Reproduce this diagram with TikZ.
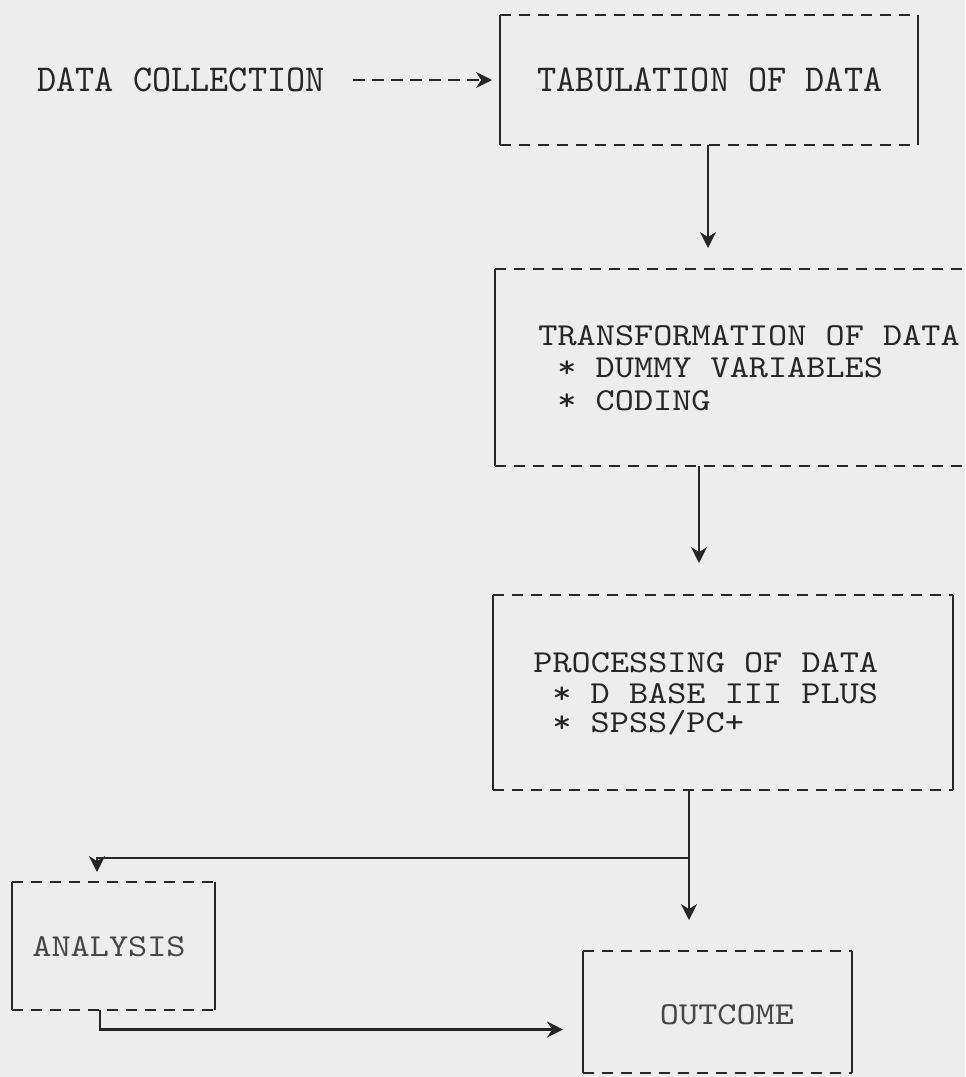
\documentclass[tikz,border=0pt]{standalone}
\usepackage{fontspec}
\newfontfamily\typefont[FakeStretch=1.14]{lmmono10-regular.otf}
\newfontfamily\tallfont[FakeStretch=0.96]{lmmono10-regular.otf}
\usetikzlibrary{arrows.meta,fit}
\definecolor{paper}{HTML}{EDEDED}
\definecolor{ink}{HTML}{262626}
\definecolor{softink}{HTML}{474747}
\tikzset{
  typebox/.style={inner sep=0pt, outer sep=0pt},
  dashedge/.style={draw=ink, line width=0.9pt, dash pattern=on 5.5pt off 4pt},
  sideedge/.style={draw=ink, line width=0.9pt},
  flow/.style={draw=ink, line width=1.1pt, -{Stealth[length=8pt,width=8pt]}},
  typetext/.style={inner sep=0pt, text=ink, font=\typefont\fontsize{16}{16}\selectfont},
  softtext/.style={inner sep=0pt, text=softink, font=\typefont\fontsize{16}{16}\selectfont},
  talltext/.style={inner sep=0pt, text=ink, font=\tallfont\fontsize{19}{19}\selectfont},
  lineleft/.style={typetext, anchor=base west},
}
\newcommand\typedbox[1]{%
  \draw[dashedge] (#1.north west) -- (#1.north east) (#1.south west) -- (#1.south east);
  \draw[sideedge] (#1.north west) -- (#1.south west) (#1.north east) -- (#1.south east);}
\begin{document}
\begin{tikzpicture}[x=0.5pt, y=-0.5pt]
  \fill[paper] (0,0) rectangle (965,1077);
  \path[use as bounding box] (0,0) rectangle (965,1077);
  \clip (0,0) rectangle (965,1077);

  % boxes
  \node[typebox, fit={(500,15) (918,145)}] (tab) {};
  \node[typebox, fit={(495,269) (990,466)}] (trans) {};
  \node[typebox, fit={(493,595) (953,790)}] (proc) {};
  \node[typebox, fit={(12,882) (215,1010)}] (ana) {};
  \node[typebox, fit={(583,951) (852,1073)}] (outc) {};
  \typedbox{tab}
  \typedbox{trans}
  \typedbox{proc}
  \typedbox{ana}
  \typedbox{outc}

  % texts
  \node[talltext] (tabtext) at (710,80) {TABULATION OF DATA};
  \node[softtext] (anatext) at (109,947) {ANALYSIS};
  \node[softtext] (outctext) at (727,1015) {OUTCOME};
  \node[talltext, anchor=west] (dc) at (37,80) {DATA COLLECTION};
  \node[lineleft] (trans1) at (538,345) {TRANSFORMATION OF DATA};
  \node[lineleft] (trans2) at (557,377.5) {* DUMMY VARIABLES};
  \node[lineleft] (trans3) at (557,410) {* CODING};
  \node[lineleft] (proc1) at (533,672) {PROCESSING OF DATA};
  \node[lineleft] (proc2) at (552,703) {* D BASE III PLUS};
  \node[lineleft] (proc3) at (552,732) {* SPSS/PC+};

  % connectors
  \draw[flow, dash pattern=on 6pt off 3.5pt, shorten <=14pt, shorten >=4pt] (dc.east) -- (tab.west);
  \draw[flow, shorten >=10.5pt] ([xshift=-0.5pt]tab.south) -- ([xshift=-0.5pt]tab.south |- trans.north);
  \draw[flow, shorten >=16pt] ([xshift=102pt]trans.south west) -- ([xshift=102pt]trans.south west |- proc.north);
  \draw[flow, shorten >=15.5pt] ([xshift=98pt]proc.south west) -- ([xshift=98pt]proc.south west |- outc.north);
  \coordinate (br) at (689,858);
  \draw[flow, shorten >=5pt] (br) -| ([xshift=42.5pt]ana.north west);
  \draw[flow, shorten >=10pt] ([xshift=44pt]ana.south west) |- ([yshift=-8.75pt]outc.west);
\end{tikzpicture}
\end{document}
